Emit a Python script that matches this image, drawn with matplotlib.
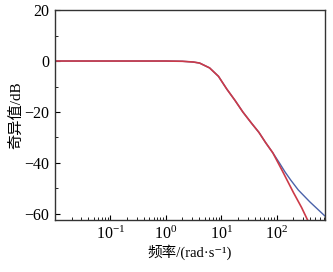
import numpy as np
import matplotlib
matplotlib.use("Agg")
import matplotlib.pyplot as plt
from matplotlib.ticker import LogLocator, MultipleLocator

plt.rcParams['font.family'] = ['Liberation Serif', 'Noto Sans CJK SC', 'DejaVu Sans']
plt.rcParams['mathtext.fontset'] = 'custom'
plt.rcParams['mathtext.rm'] = 'Liberation Serif'
plt.rcParams['mathtext.it'] = 'Liberation Serif:italic'

# shared low-frequency part (log10 rad/s, dB)
logw_common = [-2.0, 0.0, 0.3, 0.5, 0.61, 0.79, 0.95, 1.10, 1.25, 1.39, 1.55, 1.68, 1.80, 1.93]
db_common = [0.0, 0.0, -0.1, -0.4, -0.8, -2.7, -6.0, -11.0, -15.5, -20.0, -24.5, -28.0, -32.0, -36.0]

logw_red_tail = [2.10, 2.30, 2.45, 2.56, 2.62]
db_red_tail = [-43.0, -51.5, -57.5, -62.5, -65.0]

logw_blue_tail = [2.05, 2.15, 2.25, 2.39, 2.60, 2.87, 2.92]
db_blue_tail = [-40.0, -43.5, -46.6, -50.6, -55.3, -60.8, -61.8]

w_red = 10 ** np.array(logw_common + logw_red_tail)
m_red = np.array(db_common + db_red_tail)
w_blue = 10 ** np.array(logw_common + logw_blue_tail)
m_blue = np.array(db_common + db_blue_tail)

fig = plt.figure(figsize=(3.33, 2.72), dpi=100)
ax = fig.add_axes([0.165, 0.191, 0.811, 0.772])
ax.semilogx(w_blue, m_blue, color='#4a62aa', lw=1.0)
ax.semilogx(w_red, m_red, color='#cc3a48', lw=1.2)

ax.set_xlim(0.01, 745)
ax.set_ylim(-62.4, 20)
ax.set_yticks([20, 0, -20, -40, -60])
ax.yaxis.set_minor_locator(MultipleLocator(10))
ax.xaxis.set_minor_locator(LogLocator(base=10, subs=np.arange(2, 10), numticks=20))
ax.set_xticks([0.1, 1, 10, 100])
ax.set_xticklabels([r'$10^{-1}$', r'$10^{0}$', r'$10^{1}$', r'$10^{2}$'])
ax.tick_params(which='both', direction='in', labelsize=11.5, top=False, right=False)
ax.tick_params(which='major', length=3.5, pad=4)
ax.tick_params(which='minor', length=2)
for s in ax.spines.values():
    s.set_linewidth(1.0)
    s.set_color('#333333')

ax.set_ylabel('奇异值/dB', fontsize=11, labelpad=1)
ax.set_xlabel('频率/(rad·s⁻¹)', fontsize=10.5, labelpad=1)

fig.savefig('out.png', dpi=100)
